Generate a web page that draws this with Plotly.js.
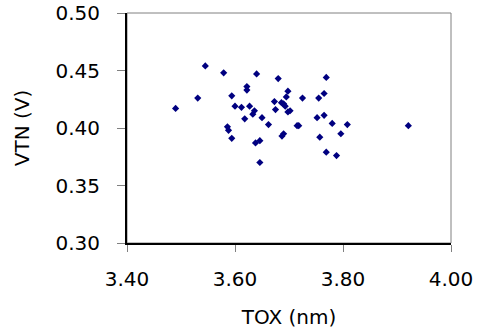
<!DOCTYPE html>
<html>
<head>
<meta charset="utf-8">
<script src="https://cdn.plot.ly/plotly-3.0.1.min.js"></script>
<style>html,body{margin:0;padding:0;background:#fff;}#chart{width:479px;height:330px;}</style>
</head>
<body>
<div id="chart"></div>
<script>
const tox = [3.490, 3.531, 3.545, 3.579, 3.594, 3.600, 3.612, 3.586, 3.588, 3.594,
             3.618, 3.622, 3.622, 3.627, 3.633, 3.636, 3.640, 3.638, 3.646, 3.646,
             3.650, 3.662, 3.673, 3.675, 3.680, 3.686, 3.690, 3.693, 3.695, 3.698,
             3.698, 3.702, 3.687, 3.690, 3.715, 3.718, 3.725, 3.752, 3.755, 3.757,
             3.765, 3.765, 3.769, 3.769, 3.780, 3.788, 3.796, 3.808, 3.921];
const vtn = [0.417, 0.426, 0.454, 0.448, 0.428, 0.419, 0.418, 0.401, 0.398, 0.391,
             0.408, 0.436, 0.433, 0.419, 0.412, 0.415, 0.447, 0.387, 0.389, 0.370,
             0.409, 0.403, 0.423, 0.416, 0.443, 0.422, 0.421, 0.419, 0.427, 0.432,
             0.414, 0.415, 0.393, 0.395, 0.402, 0.402, 0.426, 0.409, 0.426, 0.392,
             0.430, 0.411, 0.444, 0.379, 0.404, 0.376, 0.395, 0.403, 0.402];
const xTitle = "TOX (nm)";
const yTitle = "VTN (V)";

const font = {family: "DejaVu Sans, Liberation Sans, Arial, sans-serif", size: 20, color: "#000"};

Plotly.newPlot("chart", [{
  x: tox, y: vtn, type: "scatter", mode: "markers",
  marker: {symbol: "diamond", size: 5.5, color: "#000080"}
}], {
  width: 479, height: 330,
  margin: {l: 127, r: 28, t: 13, b: 87, pad: 0},
  paper_bgcolor: "#fff", plot_bgcolor: "#fff",
  font: font,
  showlegend: false,
  xaxis: {
    range: [3.4, 4.0], dtick: 0.2, tick0: 3.4, tickformat: ".2f",
    showgrid: false, zeroline: false,
    showline: true, linecolor: "#000", linewidth: 2,
    ticks: "outside", ticklen: 7, tickcolor: "#808080", tickwidth: 1,
    ticklabelstandoff: 10,
    tickfont: font,
    title: {text: xTitle, font: font, standoff: 20},
    automargin: false
  },
  yaxis: {
    range: [0.30, 0.50], dtick: 0.05, tick0: 0.30, tickformat: ".2f",
    showgrid: false, zeroline: false,
    showline: true, linecolor: "#000", linewidth: 2,
    ticks: "outside", ticklen: 8, tickcolor: "#808080", tickwidth: 1,
    ticklabelstandoff: 13,
    tickfont: font,
    title: {text: yTitle, font: font, standoff: 20},
    automargin: false
  },
  shapes: [{
    type: "rect", xref: "paper", yref: "paper", x0: 0, x1: 1, y0: 0, y1: 1,
    line: {color: "#808080", width: 1}, layer: "below"
  }]
}, {displayModeBar: false, staticPlot: true});
</script>
</body>
</html>
